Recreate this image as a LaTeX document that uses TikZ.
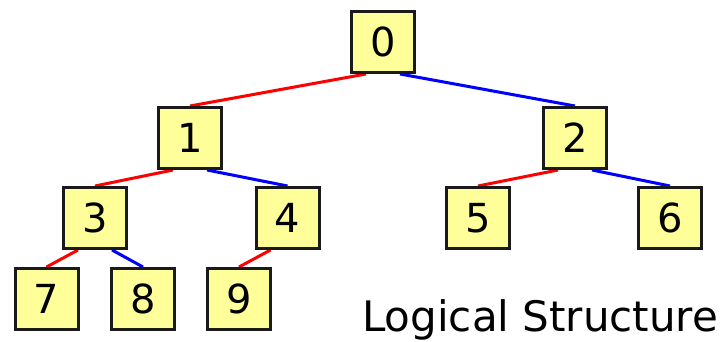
\documentclass[tikz,border=0pt]{standalone}
\usepackage{fontspec}
\setmainfont{DejaVu Sans}
\usetikzlibrary{backgrounds}
\definecolor{boxfill}{HTML}{FFFF99}
\definecolor{boxline}{HTML}{1A1A1A}
\tikzstyle{heapnode} = [rectangle, draw=boxline, fill=boxfill, line width=3pt, minimum width=63pt, minimum height=61pt, inner sep=0pt, font=\fontsize{40}{40}\selectfont]
\tikzstyle{leftedge} = [line width=3pt, red]
\tikzstyle{rightedge} = [line width=3pt, blue]

\begin{document}
\begin{tikzpicture}[x=1pt, y=-1pt]
    \useasboundingbox (0,0) rectangle (726,342);

    % Tree nodes, level by level
    \node (n0) [heapnode] at (383,42) {0};
    \node (n1) [heapnode] at (190,138) {1};
    \node (n2) [heapnode] at (575,138) {2};
    \node (n3) [heapnode] at (95,218) {3};
    \node (n4) [heapnode] at (287.5,218) {4};
    \node (n5) [heapnode] at (478,218) {5};
    \node (n6) [heapnode] at (670,218) {6};
    \node (n7) [heapnode] at (46.5,299) {7};
    \node (n8) [heapnode] at (143,299) {8};
    \node (n9) [heapnode] at (239,299) {9};

    % Caption
    \node (caption) [anchor=base west, inner sep=0pt, font=\fontsize{42}{42}\selectfont] at (362,331.5) {Logical Structure};

    % Links: red to left child, blue to right child
    \begin{scope}[on background layer]
        \draw [leftedge] (n0.-118) -- (n1.north);
        \draw [rightedge] (n0.-62) -- (n2.north);
        \draw [leftedge] (n1.-118) -- (n3.north);
        \draw [rightedge] (n1.-62) -- (n4.north);
        \draw [leftedge] (n2.-118) -- (n5.north);
        \draw [rightedge] (n2.-62) -- (n6.north);
        \draw [leftedge] (n3.-118) -- (n7.north);
        \draw [rightedge] (n3.-62) -- (n8.north);
        \draw [leftedge] (n4.-118) -- (n9.north);
    \end{scope}

\end{tikzpicture}
\end{document}
